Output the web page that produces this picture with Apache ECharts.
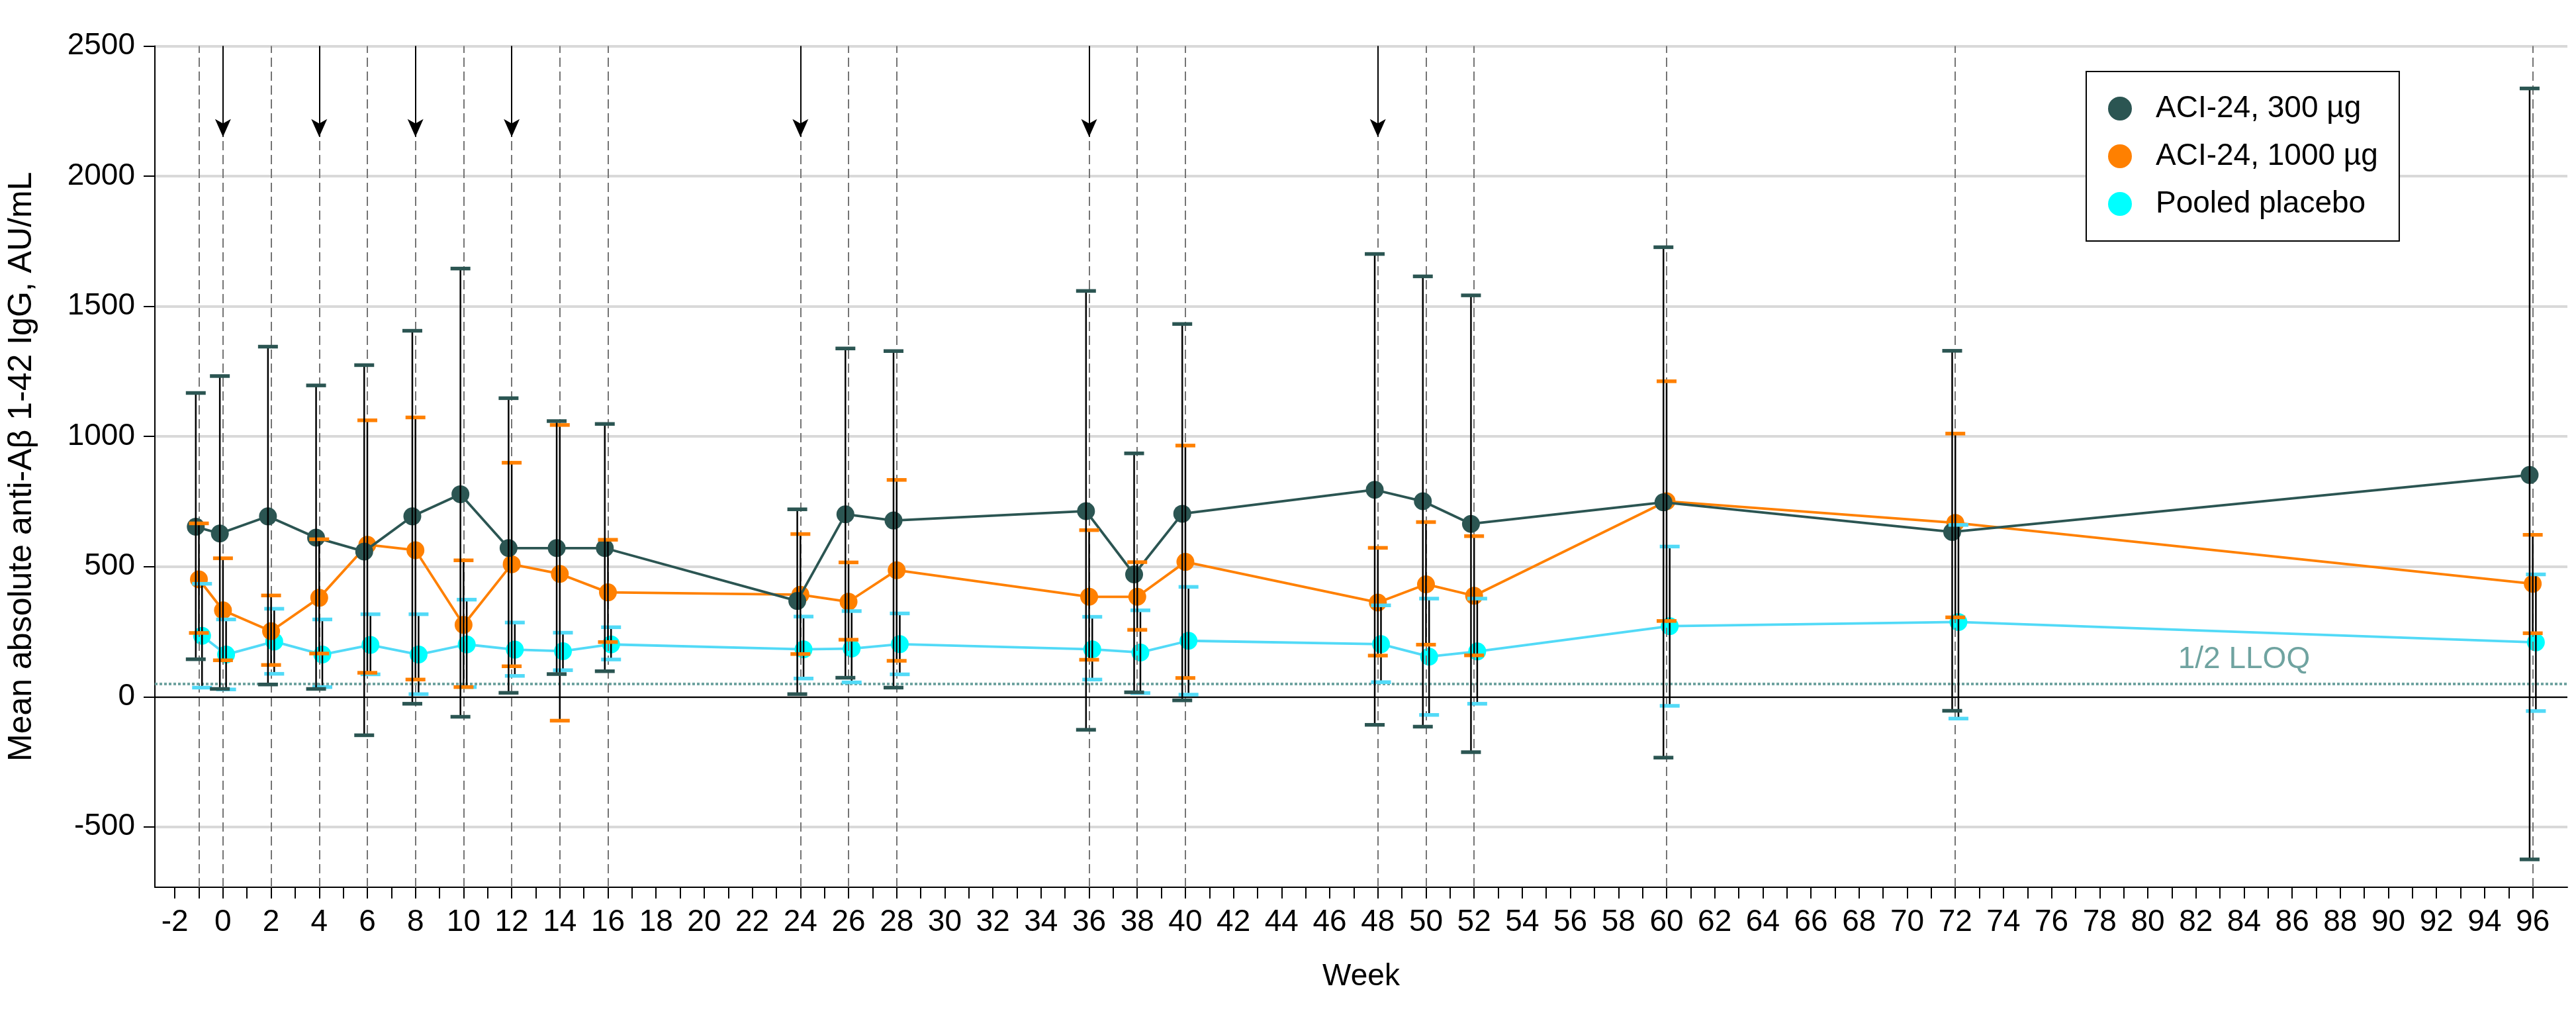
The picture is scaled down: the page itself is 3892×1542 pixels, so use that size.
<!DOCTYPE html>
<html><head><meta charset="utf-8">
<script src="https://cdn.jsdelivr.net/npm/echarts@6/dist/echarts.min.js"></script>
<style>html,body{margin:0;padding:0;background:#fff}#c{width:3892px;height:1542px}</style>
</head><body><div id="c"></div>
<script>
// ---- data ----
const weeks = [-1, 0, 2, 4, 6, 8, 10, 12, 14, 16, 24, 26, 28, 36, 38, 40, 48, 50, 52, 60, 72, 96];
const vaccinationWeeks = [0, 4, 8, 12, 24, 36, 48];
const armNames = ['ACI-24, 300 µg', 'ACI-24, 1000 µg', 'Pooled placebo'];

const mean300  = [653, 627, 693, 611, 558, 693, 778, 571, 571, 571, 368, 701, 677, 713, 470, 703, 795, 751, 664, 747, 633, 852];
const upper300 = [1167, 1232, 1345, 1196, 1274, 1406, 1645, 1147, 1059, 1048, 720, 1338, 1328, 1559, 935, 1432, 1701, 1615, 1542, 1727, 1329, 2337];
const lower300 = [144, 30, 47, 30, -148, -27, -77, 15, 87, 98, 10, 73, 35, -127, 17, -14, -108, -115, -213, -234, -54, -625];

const mean1000  = [451, 332, 252, 380, 584, 563, 276, 509, 472, 401, 392, 365, 486, 384, 384, 518, 362, 432, 388, 751, 668, 434];
const upper1000 = [666, 532, 389, 605, 1062, 1073, 524, 899, 1044, 603, 625, 516, 833, 640, 517, 965, 572, 671, 617, 1212, 1011, 622];
const lower1000 = [245, 140, 122, 166, 92, 66, 37, 117, -92, 210, 164, 219, 138, 142, 257, 72, 158, 200, 159, 291, 305, 244];

const meanPlacebo  = [234, 162, 212, 162, 199, 162, 201, 181, 175, 201, 182, 185, 202, 182, 170, 215, 202, 154, 174, 271, 287, 209];
const upperPlacebo = [434, 297, 338, 297, 317, 317, 373, 285, 246, 267, 308, 329, 320, 307, 332, 422, 351, 377, 377, 577, 660, 470];
const lowerPlacebo = [35, 28, 88, 37, 86, 10, 37, 80, 102, 143, 70, 55, 86, 66, 14, 8, 56, -70, -27, -35, -84, -55];

const halfLLOQ = 50;
const xLabelWeeks = [-2, 0, 2, 4, 6, 8, 10, 12, 14, 16, 18, 20, 22, 24, 26, 28, 30, 32, 34, 36, 38, 40, 42, 44, 46, 48,
  50, 52, 54, 56, 58, 60, 62, 64, 66, 68, 70, 72, 74, 76, 78, 80, 82, 84, 86, 88, 90, 92, 94, 96];
const yTicks = [-500, 0, 500, 1000, 1500, 2000, 2500];

// ---- styling ----
const FONT = "'Liberation Sans', Arial, sans-serif";
const colDark = '#2b5552', colOrange = '#ff8000', colCyan = '#00ffff', colCyanLine = '#52daf7';
const xMinor = []; for (let w = -2; w <= 96; w++) xMinor.push(w);
const arrowEnd = 2151;

const arms = [
  {name: armNames[0], mean: mean300, lo: lower300, hi: upper300, off: -0.13, marker: colDark, line: colDark, cap: colDark, z: 5},
  {name: armNames[1], mean: mean1000, lo: lower1000, hi: upper1000, off: 0, marker: colOrange, line: colOrange, cap: colOrange, z: 4},
  {name: armNames[2], mean: meanPlacebo, lo: lowerPlacebo, hi: upperPlacebo, off: 0.13, marker: colCyan, line: colCyanLine, cap: colCyanLine, z: 3}
];

const series = [];
// reference lines (visits dashed, zero line, LLOQ)
series.push({
  type: 'line', name: 'refs', data: [], z: 1, silent: true,
  markLine: {
    silent: true, symbol: 'none', animation: false,
    label: {show: false},
    data: [
      ...weeks.map(w => ({xAxis: w, lineStyle: {color: '#747474', width: 2, type: [14, 7]}})),
      {yAxis: 0, lineStyle: {color: '#000', width: 2, type: 'solid'}},
      {yAxis: halfLLOQ, lineStyle: {color: '#6fa3a0', width: 4, type: [4, 3]}}
    ]
  },
  markPoint: {
    silent: true, animation: false,
    data: [{coord: [84, 142], symbol: 'rect', symbolSize: 1, itemStyle: {color: 'rgba(0,0,0,0)'},
      label: {show: true, position: 'inside', formatter: '1/2 LLOQ', color: '#6fa3a0', fontSize: 46, fontFamily: FONT}}]
  }
});
// vaccination arrows
series.push({
  type: 'line', name: 'arrows', data: [], z: 8, silent: true,
  markLine: {
    silent: true, animation: false, symbol: ['none', 'arrow'], symbolSize: [18, 27],
    label: {show: false},
    lineStyle: {color: '#000', width: 2, type: 'solid'},
    itemStyle: {color: '#000'},
    data: vaccinationWeeks.map(w => [{coord: [w, 2500]}, {coord: [w, arrowEnd]}])
  }
});
// mean lines (placebo bottom, 1000 middle, 300 top)
[arms[2], arms[1], arms[0]].forEach(a => {
  series.push({
    type: 'line', name: a.name, z: a.z,
    data: weeks.map((w, i) => [w + a.off, a.mean[i]]),
    symbol: 'circle', symbolSize: 27, showSymbol: true,
    itemStyle: {color: a.marker, opacity: 1},
    lineStyle: {color: a.line, width: 3.8},
    emphasis: {disabled: true}
  });
});
// error bars (mean ± SD), black stems with coloured caps
[arms[2], arms[1], arms[0]].forEach(a => {
  series.push({
    type: 'custom', name: a.name + ' SD', z: 6, silent: true,
    data: weeks.map((w, i) => [w + a.off, a.lo[i], a.hi[i]]),
    encode: {x: 0, y: [1, 2]},
    renderItem: (params, api) => {
      const x = api.value(0), lo = api.value(1), hi = api.value(2);
      const pLo = api.coord([x, lo]), pHi = api.coord([x, hi]);
      const cw = 15;
      return {type: 'group', children: [
        {type: 'line', shape: {x1: pHi[0], y1: pHi[1], x2: pLo[0], y2: pLo[1]}, style: {stroke: '#000', lineWidth: 2.5}},
        {type: 'line', shape: {x1: pHi[0] - cw, y1: pHi[1], x2: pHi[0] + cw, y2: pHi[1]}, style: {stroke: a.cap, lineWidth: 5.5}},
        {type: 'line', shape: {x1: pLo[0] - cw, y1: pLo[1], x2: pLo[0] + cw, y2: pLo[1]}, style: {stroke: a.cap, lineWidth: 5.5}}
      ]};
    }
  });
});

const option = {
  animation: false,
  backgroundColor: '#fff',
  textStyle: {fontFamily: FONT},
  grid: {left: 224, right: 13, top: 69.5, bottom: 202, containLabel: false},
  legend: {
    data: armNames, orient: 'vertical', left: 3152, top: 108,
    padding: [33, 32, 33, 33], itemWidth: 36, itemHeight: 36, itemGap: 26, icon: 'circle',
    backgroundColor: '#fff', borderColor: '#000', borderWidth: 2,
    textStyle: {fontSize: 46, fontFamily: FONT, color: '#000', padding: [0, 0, 0, 31]},
    selectedMode: false
  },
  xAxis: {
    type: 'value', min: -2.83, max: 97.44,
    name: 'Week', nameLocation: 'middle', nameGap: 112,
    nameTextStyle: {fontSize: 46, fontFamily: FONT, color: '#000'},
    axisLine: {show: true, onZero: false, lineStyle: {color: '#000', width: 2}},
    axisTick: {show: true, length: 17, lineStyle: {color: '#000', width: 2}, customValues: xMinor},
    axisLabel: {fontSize: 46, fontFamily: FONT, color: '#000', margin: 30, lineHeight: 46,
      customValues: xLabelWeeks, formatter: v => String(v)},
    splitLine: {show: false}
  },
  yAxis: {
    type: 'value', min: -732, max: 2500,
    name: 'Mean absolute anti-Aβ 1-42 IgG, AU/mL', nameLocation: 'middle', nameGap: 176,
    nameTextStyle: {fontSize: 50, fontFamily: FONT, color: '#000'},
    axisLine: {show: true, onZero: false, lineStyle: {color: '#000', width: 2}},
    axisTick: {show: true, length: 17, lineStyle: {color: '#000', width: 2}, customValues: yTicks},
    axisLabel: {fontSize: 46, fontFamily: FONT, color: '#000', margin: 30,
      customValues: yTicks, formatter: v => String(v)},
    splitLine: {show: true, lineStyle: {color: '#d9d9d9', width: 4}}
  },
  series
};
const chart = echarts.init(document.getElementById('c'), null, {renderer: 'canvas'});
chart.setOption(option);
</script></body></html>
